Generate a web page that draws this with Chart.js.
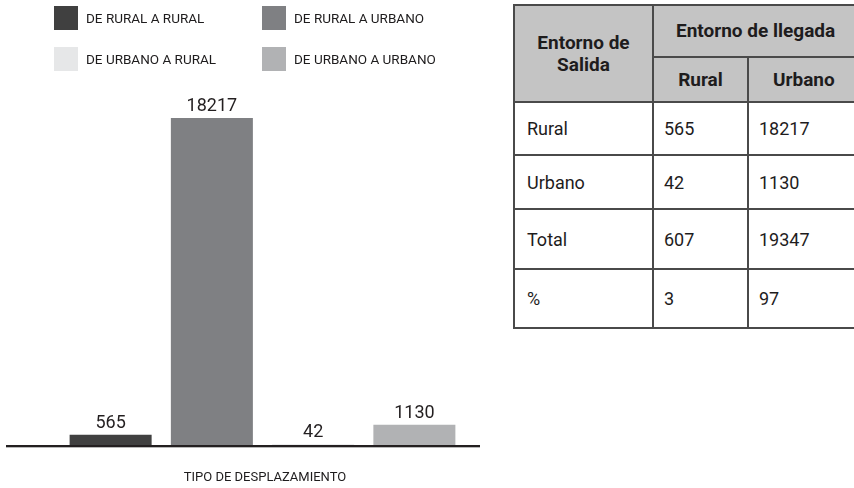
<!doctype html>
<html lang="es">
  <head>
    <meta charset="utf-8">
    <title>Tipo de desplazamiento</title>
    <style>
      * {
        margin: 0;
        padding: 0;
      }
      body {
        width: 854px;
        height: 488px;
        overflow: hidden;
        background: #fff;
        position: relative;
        font-family: "Liberation Sans Narrow", "Roboto", sans-serif;
        color: #1e1c1d;
      }
      #myChart {
        position: absolute;
        left: 0;
        top: 0;
      }
      .legendItem {
        position: absolute;
        height: 24px;
        display: flex;
        align-items: center;
        font-size: 13.5px;
        white-space: nowrap;
      }
      .legendItem span.box {
        display: inline-block;
        width: 24px;
        height: 24px;
        margin-right: 8px;
      }
      .xTitle {
        position: absolute;
        left: 165px;
        top: 469px;
        width: 200px;
        text-align: center;
        font-size: 13px;
        white-space: nowrap;
      }
      table {
        position: absolute;
        left: 513px;
        top: 4px;
        width: 362px;
        table-layout: fixed;
        border-collapse: collapse;
        font-size: 18px;
      }
      td, th {
        border: 2px solid #4a4a4a;
        padding: 0 10px;
        text-align: left;
        font-weight: normal;
      }
      td:first-child {
        padding-left: 12px;
      }
      th {
        background: #c4c4c4;
        font-weight: bold;
        font-size: 19px;
        text-align: center;
        line-height: 22px;
      }
    </style>
  </head>
  <body>
    <canvas id="myChart" width="500" height="488"></canvas>
    <div id="legend"></div>
    <div class="xTitle">TIPO DE DESPLAZAMIENTO</div>
    <table id="tabla">
      <colgroup><col style="width:139px"><col style="width:95px"><col style="width:128px"></colgroup>
    </table>
    <script src="https://cdn.jsdelivr.net/npm/chart.js"></script>
    <script>
    // datos del grafico
    const categorias = ['DE RURAL A RURAL', 'DE RURAL A URBANO', 'DE URBANO A RURAL', 'DE URBANO A URBANO'];
    const valores = [565, 18217, 42, 1130];
    const colores = ['#404040', '#7f8083', '#e6e7e8', '#b1b2b4'];

    // datos de la tabla
    const filasTabla = ['Rural', 'Urbano', 'Total', '%'];
    const llegadaRural = [565, 42, 607, 3];
    const llegadaUrbano = [18217, 1130, 19347, 97];

    // leyenda en dos columnas
    const legendPos = [[54, 6], [262, 6], [54, 47], [262, 47]];
    const legend = document.getElementById('legend');
    categorias.forEach((c, i) => {
      const item = document.createElement('div');
      item.className = 'legendItem';
      item.style.left = legendPos[i][0] + 'px';
      item.style.top = legendPos[i][1] + 'px';
      item.innerHTML = '<span class="box" style="background:' + colores[i] + '"></span>' + c;
      legend.appendChild(item);
    });

    // tabla
    const tabla = document.getElementById('tabla');
    let html = '<tr style="height:52px"><th rowspan="2">Entorno de<br>Salida</th>' +
      '<th colspan="2" style="text-align:left;padding-left:22px">Entorno de llegada</th></tr>' +
      '<tr style="height:45px"><th>Rural</th><th style="text-align:left;padding-left:24px">Urbano</th></tr>';
    const rowH = [53, 54, 60, 59];
    filasTabla.forEach((f, i) => {
      html += '<tr style="height:' + rowH[i] + 'px"><td>' + f + '</td><td>' + llegadaRural[i] +
        '</td><td>' + llegadaUrbano[i] + '</td></tr>';
    });
    tabla.insertAdjacentHTML('beforeend', html);

    // etiquetas de valor encima de las barras
    const valueLabels = {
      id: 'valueLabels',
      afterDatasetsDraw(chart) {
        const ctx = chart.ctx;
        const meta = chart.getDatasetMeta(0);
        ctx.save();
        ctx.font = '18px "Liberation Sans Narrow", Roboto, sans-serif';
        ctx.fillStyle = '#231f20';
        ctx.textAlign = 'center';
        ctx.textBaseline = 'alphabetic';
        meta.data.forEach((bar, i) => {
          ctx.fillText(valores[i], bar.x, bar.y - 7);
        });
        ctx.restore();
      }
    };

    // linea base del eje
    const baseLine = {
      id: 'baseLine',
      afterDatasetsDraw(chart) {
        const ctx = chart.ctx;
        const y0 = chart.scales.y.getPixelForValue(0);
        ctx.save();
        ctx.fillStyle = '#231f20';
        ctx.fillRect(6, y0, 474, 2);
        ctx.fillStyle = '#b8b8b8';
        ctx.fillRect(6, y0 + 2, 474, 1);
        ctx.restore();
      }
    };

    const data = {
      labels: categorias,
      datasets: [{
        data: valores,
        backgroundColor: colores,
        borderWidth: 0,
        barPercentage: 0.81,
        categoryPercentage: 1
      }]
    };

    const config = {
      type: 'bar',
      data,
      options: {
        responsive: false,
        animation: false,
        devicePixelRatio: 1,
        layout: {
          padding: { top: 118, bottom: 43, left: 60, right: 35 }
        },
        plugins: {
          legend: { display: false },
          tooltip: { enabled: false }
        },
        scales: {
          x: { display: false },
          y: { display: false, min: 0, max: 18217 }
        }
      },
      plugins: [valueLabels, baseLine]
    };

    const myChart = new Chart(document.getElementById('myChart'), config);
    </script>
  </body>
</html>
